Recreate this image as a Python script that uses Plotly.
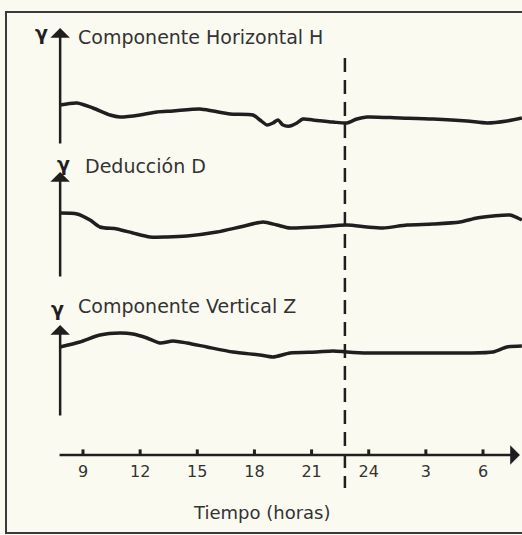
import plotly.graph_objects as go

# ---------------- data ----------------
tick_hours = [9, 12, 15, 18, 21, 24, 27, 30]
tick_labels = ["9", "12", "15", "18", "21", "24", "3", "6"]
event_hour = 22.75

hours_H = [7.79, 8.69, 9.52, 10.42, 10.94, 11.99, 12.88, 13.72, 15.14, 15.82, 16.72,
           17.92, 18.29, 18.66, 18.97, 19.24, 19.50, 19.87, 20.23, 20.55, 21.07, 22.12,
           22.86, 23.38, 23.91, 25.64, 27.37, 29.16, 30.21, 31.26, 32.04]
field_H = [10.0, 10.5, 9.25, 7.5, 7.0, 7.5, 8.25, 8.5, 9.0, 8.5, 7.75,
           7.5, 6.25, 5.0, 5.5, 6.25, 5.0, 4.75, 5.5, 6.5, 6.25, 5.75,
           5.5, 6.5, 7.0, 6.75, 6.5, 6.0, 5.5, 6.0, 6.75]

hours_D = [7.79, 8.69, 9.37, 9.89, 10.78, 11.62, 12.52, 13.41, 14.46, 16.03, 17.24,
           18.45, 19.18, 19.87, 21.28, 22.86, 23.91, 24.75, 26.01, 27.37, 28.79, 29.68,
           30.52, 31.41, 31.83, 32.04]
field_D = [16.25, 16.0, 14.5, 12.75, 12.25, 11.25, 10.25, 10.25, 10.5, 11.5, 12.75,
           14.0, 13.25, 12.5, 12.75, 13.25, 12.75, 12.5, 13.25, 13.5, 14.0, 15.0,
           15.5, 15.75, 15.0, 14.5]

hours_Z = [7.79, 8.84, 9.89, 10.94, 11.62, 12.36, 13.04, 13.72, 14.46, 15.51, 16.87,
           18.29, 18.97, 19.87, 21.28, 22.12, 22.86, 23.91, 25.64, 27.37, 29.16, 30.52,
           31.26, 32.04]
field_Z = [17.5, 18.75, 20.5, 21.0, 20.75, 19.75, 18.5, 19.0, 18.5, 17.5, 16.25,
           15.5, 15.0, 16.0, 16.25, 16.5, 16.25, 16.0, 16.0, 16.0, 16.0, 16.25,
           17.5, 17.75]

labels = ["Componente Horizontal H", "Deducción D", "Componente Vertical Z"]
x_title = "Tiempo (horas)"
gamma = "γ"

# ---------------- styling / layout ----------------
W, H = 522, 535
BG = "#fbfaf1"
INK = "#1f1f1f"
TXT = "#333333"
FONT = "DejaVu Sans"

axis_start = 7.69   # where the time arrow begins
axis_tip = 31.94    # arrow tip
yaxis_x = 7.8       # position of the vertical arrows

def px(v):  # paper x from pixel
    return v / W

def py(v):  # paper y from pixel (top-origin)
    return 1 - v / H

panels = [
    # (yaxis id, domain, range top)
    ("y", [py(145), py(28)], 29.25),
    ("y2", [py(278), py(172)], 26.5),
    ("y3", [py(417), py(325)], 23.0),
]

fig = go.Figure()
series = [(hours_H, field_H), (hours_D, field_D), (hours_Z, field_Z)]
for (hrs, vals), (yid, dom, top) in zip(series, panels):
    fig.add_trace(go.Scatter(x=hrs, y=vals, mode="lines", yaxis=yid,
                             line=dict(color=INK, width=3.5, shape="spline", smoothing=0.7),
                             hoverinfo="skip", showlegend=False))

# tick dots on the time axis
fig.add_trace(go.Scatter(x=tick_hours, y=[0] * len(tick_hours), mode="markers", yaxis="y4",
                         marker=dict(symbol="line-ns", size=8, line=dict(color=INK, width=3)),
                         hoverinfo="skip", showlegend=False))

annotations = []
# vertical arrows (y axes)
for yid, dom, top in panels:
    annotations.append(dict(x=yaxis_x, y=top, ax=yaxis_x, ay=0, xref="x", yref=yid,
                            axref="x", ayref=yid, text="", showarrow=True, arrowhead=1,
                            arrowsize=1.3, arrowwidth=2.5, arrowcolor=INK, standoff=0))
# time arrow
annotations.append(dict(x=axis_tip, y=0, ax=axis_start, ay=0, xref="x", yref="y4",
                        axref="x", ayref="y4", text="", showarrow=True, arrowhead=1,
                        arrowsize=1.3, arrowwidth=2.5, arrowcolor=INK, standoff=0))

# panel labels
label_pos = [(76, 37), (83, 166), (76, 306)]
gamma_pos = [(41, 33), (63, 164), (57, 309)]
for t, (lx, ly), (gx, gy) in zip(labels, label_pos, gamma_pos):
    annotations.append(dict(x=px(lx), y=py(ly), xref="paper", yref="paper", text=t,
                            showarrow=False, xanchor="left", yanchor="middle",
                            font=dict(family=FONT, size=19, color=TXT)))
    annotations.append(dict(x=px(gx), y=py(gy), xref="paper", yref="paper",
                            text="<b>" + gamma + "</b>", showarrow=False,
                            xanchor="center", yanchor="middle",
                            font=dict(family=FONT, size=19, color=INK)))

annotations.append(dict(x=px(262), y=py(512), xref="paper", yref="paper", text=x_title,
                        showarrow=False, xanchor="center", yanchor="middle",
                        font=dict(family=FONT, size=18, color=TXT)))

# open frame path (left, top and bottom edges only; the right edge is cut off)
frame_path = "M %.5f,%.5f L %.5f,%.5f L %.5f,%.5f L %.5f,%.5f" % (
    1.03, py(12), px(6), py(12), px(6), py(533), 1.03, py(533))
shapes = [
    dict(type="path", xref="paper", yref="paper", path=frame_path,
         line=dict(color="#3a3a3a", width=2), fillcolor="rgba(0,0,0,0)", layer="below"),
    # dashed event line
    dict(type="line", xref="x", yref="paper", x0=event_hour, x1=event_hour,
         y0=py(58), y1=py(488), line=dict(color=INK, width=2.5, dash="14px,8px")),
]

x_lo = 9 - 83 / 19.048
x_hi = 9 + (W - 83) / 19.048

layout_axes = dict(
    xaxis=dict(range=[x_lo, x_hi], domain=[0, 1], anchor="y4", showgrid=False,
               zeroline=False, showline=False, tickmode="array", tickvals=tick_hours,
               ticktext=tick_labels, ticks="", ticklabelstandoff=5,
               tickfont=dict(family=FONT, size=16, color=TXT)),
    yaxis4=dict(domain=[py(455), py(440)], range=[0, 1], visible=False, anchor="x"),
)
for yid, dom, top in panels:
    key = "yaxis" if yid == "y" else "yaxis" + yid[1:]
    layout_axes[key] = dict(domain=dom, range=[0, top], visible=False, anchor="x")

fig.update_layout(width=W, height=H, margin=dict(l=0, r=0, t=0, b=0),
                  paper_bgcolor=BG, plot_bgcolor=BG, showlegend=False,
                  annotations=annotations, shapes=shapes, **layout_axes)

page_js = ("document.body.style.margin='0';"
           "document.body.style.overflow='hidden';"
           "document.documentElement.style.overflow='hidden';"
           "document.body.style.background='%s';" % BG)
fig.write_html("out.html", config={"displayModeBar": False}, post_script=page_js)
